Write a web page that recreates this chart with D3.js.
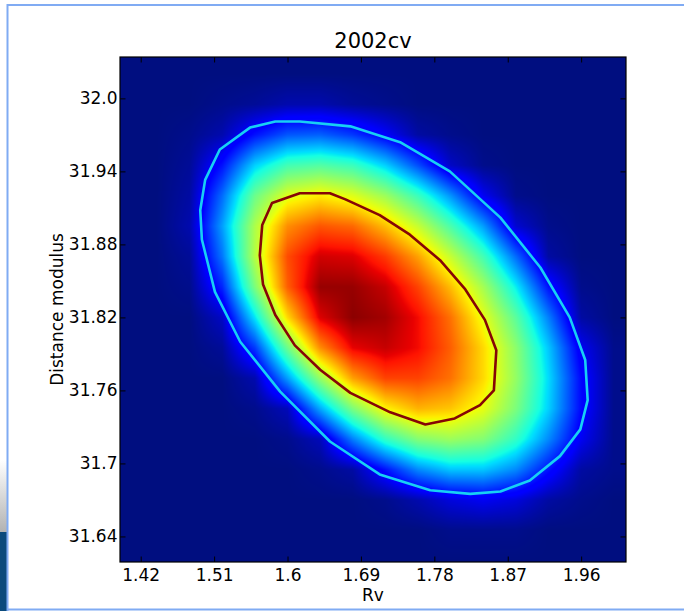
<!DOCTYPE html>
<html>
<head>
<meta charset="utf-8">
<script src="https://cdn.jsdelivr.net/npm/d3@7"></script>
<style>
  body { margin: 0; background: #fff; }
  svg { display: block; font-family: "DejaVu Sans", sans-serif; }
</style>
</head>
<body>
<svg id="chart" width="684" height="611"></svg>
<script>
// labels
const title = "2002cv";
const xLabel = "Rv";
const yLabel = "Distance modulus";
const xTicks = [1.42, 1.51, 1.6, 1.69, 1.78, 1.87, 1.96];
const xTickLabels = ["1.42", "1.51", "1.6", "1.69", "1.78", "1.87", "1.96"];
const yTicks = [32.0, 31.94, 31.88, 31.82, 31.76, 31.7, 31.64];
const yTickLabels = ["32.0", "31.94", "31.88", "31.82", "31.76", "31.7", "31.64"];

// density grid (0..1 on the colour scale)
const gridRv = [1.40, 1.44, 1.48, 1.52, 1.56, 1.60, 1.64, 1.68, 1.72, 1.76, 1.80, 1.84, 1.88, 1.92, 1.96, 2.00];
const gridMu = [32.02, 31.995, 31.97, 31.945, 31.92, 31.895, 31.87, 31.845, 31.82, 31.795, 31.77, 31.745, 31.72, 31.695, 31.67, 31.645, 31.62];
const density = [
  [0, 0, 0, 0, 0, 0, 0, 0, 0, 0, 0, 0, 0, 0, 0, 0],
  [0, 0, 0, 0.01, 0.02, 0.04, 0.04, 0.02, 0.01, 0, 0, 0, 0, 0, 0, 0],
  [0, 0, 0.01, 0.04, 0.14, 0.21, 0.22, 0.18, 0.11, 0.03, 0.01, 0, 0, 0, 0, 0],
  [0, 0, 0.02, 0.14, 0.33, 0.43, 0.45, 0.42, 0.33, 0.20, 0.06, 0.01, 0, 0, 0, 0],
  [0, 0, 0.03, 0.23, 0.48, 0.62, 0.66, 0.62, 0.54, 0.42, 0.27, 0.10, 0.01, 0, 0, 0],
  [0, 0, 0.04, 0.28, 0.56, 0.76, 0.82, 0.80, 0.71, 0.59, 0.44, 0.28, 0.07, 0.01, 0, 0],
  [0, 0, 0.02, 0.24, 0.57, 0.83, 0.93, 0.92, 0.85, 0.74, 0.59, 0.43, 0.23, 0.03, 0, 0],
  [0, 0, 0.01, 0.16, 0.50, 0.81, 0.98, 0.98, 0.94, 0.84, 0.71, 0.55, 0.36, 0.14, 0.01, 0],
  [0, 0, 0, 0.06, 0.35, 0.68, 0.92, 0.99, 0.97, 0.90, 0.79, 0.63, 0.46, 0.25, 0.03, 0],
  [0, 0, 0, 0.02, 0.18, 0.48, 0.76, 0.91, 0.94, 0.90, 0.81, 0.68, 0.52, 0.32, 0.10, 0.01],
  [0, 0, 0, 0, 0.04, 0.28, 0.53, 0.74, 0.84, 0.84, 0.79, 0.68, 0.53, 0.34, 0.13, 0.01],
  [0, 0, 0, 0, 0.01, 0.05, 0.29, 0.50, 0.65, 0.72, 0.70, 0.63, 0.50, 0.33, 0.13, 0.01],
  [0, 0, 0, 0, 0, 0.01, 0.05, 0.25, 0.41, 0.51, 0.54, 0.51, 0.41, 0.26, 0.10, 0.01],
  [0, 0, 0, 0, 0, 0, 0.01, 0.03, 0.14, 0.26, 0.32, 0.32, 0.26, 0.14, 0.03, 0.01],
  [0, 0, 0, 0, 0, 0, 0, 0, 0.01, 0.04, 0.08, 0.10, 0.08, 0.03, 0.01, 0],
  [0, 0, 0, 0, 0, 0, 0, 0, 0, 0, 0.01, 0.01, 0.01, 0, 0, 0],
  [0, 0, 0, 0, 0, 0, 0, 0, 0, 0, 0, 0, 0, 0, 0, 0]
];

// contour lines
const outerRv = [1.615, 1.677, 1.738, 1.799, 1.861, 1.910, 1.946, 1.965, 1.968, 1.959, 1.934, 1.897, 1.861,
  1.824, 1.775, 1.713, 1.652, 1.591, 1.542, 1.511, 1.495, 1.493, 1.499, 1.517, 1.554, 1.585];
const outerMu = [31.981, 31.977, 31.964, 31.940, 31.902, 31.861, 31.820, 31.785, 31.752, 31.728, 31.706, 31.686, 31.677,
  31.675, 31.678, 31.691, 31.718, 31.759, 31.800, 31.841, 31.884, 31.908, 31.933, 31.958, 31.976, 31.981];
const innerRv = [1.615, 1.652, 1.671, 1.713, 1.750, 1.787, 1.818, 1.842, 1.856, 1.853, 1.836, 1.805,
  1.769, 1.726, 1.677, 1.640, 1.609, 1.585, 1.570, 1.566, 1.569, 1.581];
const innerMu = [31.922, 31.922, 31.917, 31.904, 31.888, 31.867, 31.843, 31.818, 31.793, 31.760, 31.748, 31.737,
  31.732, 31.742, 31.758, 31.777, 31.797, 31.822, 31.847, 31.871, 31.896, 31.914];

// jet colour map
const jetStops = [0, 0.11, 0.125, 0.34, 0.35, 0.375, 0.64, 0.65, 0.66, 0.89, 0.91, 1];
const jetColors = ["#000e80", "#0000ff", "#0000ff", "#00dbff", "#00e6f7", "#15ffe2", "#eeff08",
  "#f7f600", "#ffec00", "#ff1300", "#e80000", "#800000"];

const margin = { left: 120, top: 57 };
const width = 506;
const height = 505;

const svg = d3.select("#chart");

drawFrame();
drawChart();

function drawFrame () {
  // screenshot edge
  const defs = svg.append("defs");
  const grad = defs.append("linearGradient")
    .attr("id", "edgeGrad")
    .attr("x1", 0).attr("y1", 0).attr("x2", 0).attr("y2", 1);
  grad.append("stop").attr("offset", "0%").attr("stop-color", "#ffffff");
  grad.append("stop").attr("offset", "100%").attr("stop-color", "#b2b2b2");

  svg.append("rect").attr("x", 0).attr("y", 460).attr("width", 7).attr("height", 72)
    .attr("fill", "url(#edgeGrad)");
  svg.append("rect").attr("x", 0).attr("y", 532).attr("width", 7).attr("height", 79)
    .attr("fill", "#0b4a7c");

  const edge = "#80abf3";
  svg.append("line").attr("x1", 7).attr("x2", 684).attr("y1", 5).attr("y2", 5)
    .attr("stroke", edge).attr("stroke-width", 2);
  svg.append("line").attr("x1", 7.5).attr("x2", 7.5).attr("y1", 4).attr("y2", 611)
    .attr("stroke", edge).attr("stroke-width", 2);
  svg.append("line").attr("x1", 7).attr("x2", 684).attr("y1", 609.5).attr("y2", 609.5)
    .attr("stroke", edge).attr("stroke-width", 2);
}

function drawChart () {
  const x = d3.scaleLinear().domain([1.3946, 2.015]).range([0, width]);
  const y = d3.scaleLinear().domain([32.034, 31.619]).range([0, height]);
  const color = d3.scaleLinear().domain(jetStops).range(jetColors).clamp(true);

  const g = svg.append("g")
    .attr("transform", `translate(${margin.left}, ${margin.top})`);

  // heat map: bilinear resampling of the grid, like imshow
  const col = d3.scaleLinear().domain([gridRv[0], gridRv[gridRv.length - 1]])
    .range([0, gridRv.length - 1]).clamp(true);
  const row = d3.scaleLinear().domain([gridMu[0], gridMu[gridMu.length - 1]])
    .range([0, gridMu.length - 1]).clamp(true);

  const canvas = document.createElement("canvas");
  canvas.width = width;
  canvas.height = height;
  const ctx = canvas.getContext("2d");
  const img = ctx.createImageData(width, height);

  for (let py = 0; py < height; py++) {
    const fj = row(y.invert(py + 0.5));
    const j0 = Math.min(Math.floor(fj), gridMu.length - 2);
    const ty = fj - j0;
    for (let px = 0; px < width; px++) {
      const fi = col(x.invert(px + 0.5));
      const i0 = Math.min(Math.floor(fi), gridRv.length - 2);
      const tx = fi - i0;
      const v = density[j0][i0] * (1 - tx) * (1 - ty) +
        density[j0][i0 + 1] * tx * (1 - ty) +
        density[j0 + 1][i0] * (1 - tx) * ty +
        density[j0 + 1][i0 + 1] * tx * ty;
      const c = d3.rgb(color(v));
      const k = (py * width + px) * 4;
      img.data[k] = c.r;
      img.data[k + 1] = c.g;
      img.data[k + 2] = c.b;
      img.data[k + 3] = 255;
    }
  }
  ctx.putImageData(img, 0, 0);

  g.append("image")
    .attr("x", 0).attr("y", 0)
    .attr("width", width).attr("height", height)
    .attr("preserveAspectRatio", "none")
    .attr("href", canvas.toDataURL());

  // contours
  const line = d3.line()
    .x(d => x(d[0]))
    .y(d => y(d[1]))
    .curve(d3.curveLinearClosed);

  g.append("path")
    .datum(outerRv.map((d, i) => [d, outerMu[i]]))
    .attr("d", line)
    .attr("fill", "none")
    .attr("stroke", "#17d0f4")
    .attr("stroke-width", 2.6)
    .attr("stroke-linejoin", "round");

  g.append("path")
    .datum(innerRv.map((d, i) => [d, innerMu[i]]))
    .attr("d", line)
    .attr("fill", "none")
    .attr("stroke", "#850606")
    .attr("stroke-width", 2.6)
    .attr("stroke-linejoin", "round");

  // axes, ticks pointing inward
  const tickLen = 5.5;
  const xAxis = d3.axisBottom(x).tickValues(xTicks)
    .tickFormat((d, i) => xTickLabels[i]).tickSizeInner(-tickLen).tickSizeOuter(0).tickPadding(7);
  const xAxisTop = d3.axisTop(x).tickValues(xTicks)
    .tickFormat("").tickSizeInner(-tickLen).tickSizeOuter(0);
  const yAxis = d3.axisLeft(y).tickValues(yTicks)
    .tickFormat((d, i) => yTickLabels[i]).tickSizeInner(-tickLen).tickSizeOuter(0).tickPadding(2.5);
  const yAxisRight = d3.axisRight(y).tickValues(yTicks)
    .tickFormat("").tickSizeInner(-tickLen).tickSizeOuter(0);

  const axes = [
    g.append("g").attr("transform", `translate(0, ${height})`).call(xAxis),
    g.append("g").call(xAxisTop),
    g.append("g").call(yAxis),
    g.append("g").attr("transform", `translate(${width}, 0)`).call(yAxisRight)
  ];
  axes.forEach(a => {
    a.select(".domain").remove();
    a.selectAll("line").attr("stroke", "#000").attr("stroke-width", 1);
    a.selectAll("text")
      .attr("fill", "#000")
      .style("font-family", "DejaVu Sans, sans-serif")
      .style("font-size", "17px");
  });

  g.append("rect")
    .attr("x", 0).attr("y", 0)
    .attr("width", width).attr("height", height)
    .attr("fill", "none")
    .attr("stroke", "#000")
    .attr("stroke-width", 1.2);

  // labels
  g.append("text")
    .attr("x", width / 2).attr("y", -9)
    .attr("text-anchor", "middle")
    .style("font-size", "21px")
    .text(title);

  g.append("text")
    .attr("x", width / 2).attr("y", height + 39)
    .attr("text-anchor", "middle")
    .style("font-size", "17px")
    .text(xLabel);

  g.append("text")
    .attr("transform", `translate(${-57}, ${height / 2}) rotate(-90)`)
    .attr("text-anchor", "middle")
    .style("font-size", "17px")
    .text(yLabel);
}
</script>
</body>
</html>
